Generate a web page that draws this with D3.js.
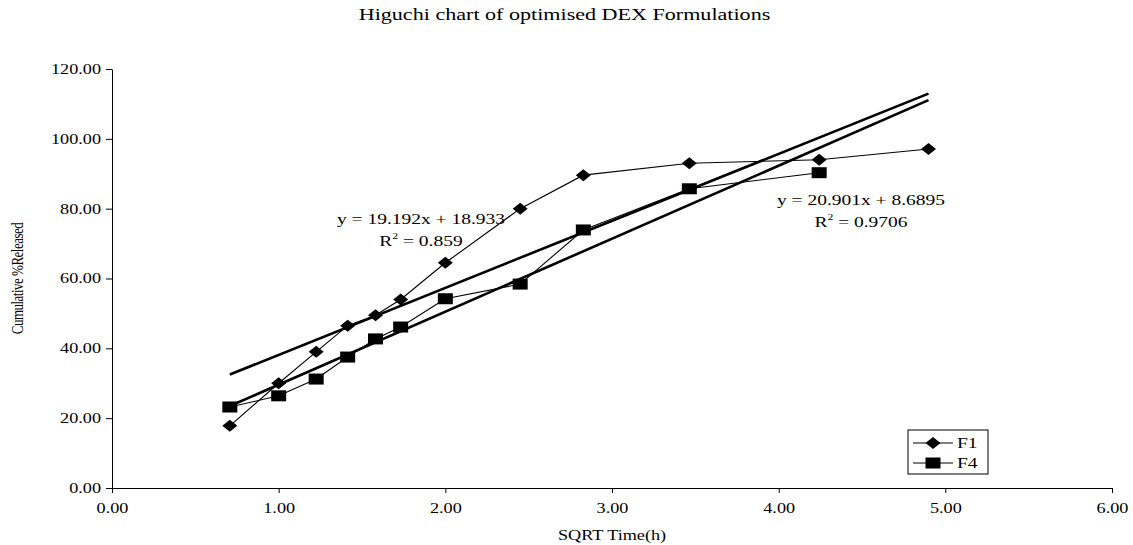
<!DOCTYPE html>
<html>
<head>
<meta charset="utf-8">
<script src="https://cdn.jsdelivr.net/npm/d3@7"></script>
<style>
  body { margin: 0; background: #fff; }
  text { font-family: "Liberation Serif", serif; fill: #000; }
</style>
</head>
<body>
<div id="chart-container"></div>
<script>
// sqrt of sampling times (h)
const sqrtTime = [0.707, 1.0, 1.225, 1.414, 1.581, 1.732, 2.0, 2.449, 2.828, 3.464, 4.243, 4.899];
const f1Values = [17.8, 30.0, 39.0, 46.5, 49.5, 54.0, 64.5, 80.0, 89.6, 93.0, 94.0, 97.1];
const f4Values = [23.2, 26.4, 31.2, 37.5, 42.7, 46.1, 54.2, 58.4, 73.9, 85.7, 90.3];
const xTicks = [0, 1, 2, 3, 4, 5, 6];
const yTicks = [0, 20, 40, 60, 80, 100, 120];
// trendline coefficients shown on the chart
const f1Fit = { slope: 19.192, intercept: 18.933, r2: "0.859" };
const f4Fit = { slope: 20.901, intercept: 8.6895, r2: "0.9706" };
const seriesNames = ["F1", "F4"];

// the picture is stretched sideways, so text is stretched the same way
const SX = 1.3;

const W = 1133, H = 545;
const margin = { top: 69, right: 21, bottom: 57, left: 112 };
const width = W - margin.left - margin.right;
const height = H - margin.top - margin.bottom;

const svg = d3.select("#chart-container")
  .append("svg")
  .attr("width", W)
  .attr("height", H);

const g = svg.append("g")
  .attr("transform", "translate(" + margin.left + "," + margin.top + ")");

const x = d3.scaleLinear().domain([0, 6]).range([0, width]);
const y = d3.scaleLinear().domain([0, 120]).range([height, 0]);

function stretchText(parent, px, py, str, size, anchor) {
  const t = parent.append("g")
    .attr("transform", "translate(" + px + "," + py + ") scale(" + SX + ",1)")
    .append("text")
    .attr("text-anchor", anchor || "middle")
    .attr("dominant-baseline", "central")
    .style("font-size", size + "px");
  return t.text(str);
}

// axes
const xAxis = g.append("g")
  .attr("transform", "translate(0," + height + ")")
  .call(d3.axisBottom(x).tickValues(xTicks).tickFormat(d3.format(".2f")).tickSizeInner(5).tickSizeOuter(5));
xAxis.selectAll("text")
  .style("font-size", "14px")
  .attr("y", 20).attr("dy", "0.35em")
  .attr("transform", "scale(" + SX + ",1)");

const yAxis = g.append("g")
  .call(d3.axisLeft(y).tickValues(yTicks).tickFormat(d3.format(".2f")).tickSizeInner(6).tickSizeOuter(0));
yAxis.selectAll("text")
  .style("font-size", "14px")
  .attr("x", -11 / SX)
  .attr("transform", "scale(" + SX + ",1)");
g.selectAll(".domain, .tick line").attr("stroke", "#000");

// titles
stretchText(svg, W / 2 - 2, 14, "Higuchi chart of optimised DEX Formulations", 17);
stretchText(svg, margin.left + width / 2, 536, "SQRT Time(h)", 14);
svg.append("g")
  .attr("transform", "translate(17," + (margin.top + height / 2) + ") scale(" + SX + ",1) rotate(-90)")
  .append("text")
  .attr("text-anchor", "middle")
  .attr("dominant-baseline", "central")
  .style("font-size", "13px")
  .style("letter-spacing", "-0.5px")
  .text("Cumulative %Released");

// trendlines over the x range of the data
const xExtent = d3.extent(sqrtTime);
[f1Fit, f4Fit].forEach(fit => {
  g.append("line")
    .attr("x1", x(xExtent[0])).attr("y1", y(fit.intercept + fit.slope * xExtent[0]))
    .attr("x2", x(xExtent[1])).attr("y2", y(fit.intercept + fit.slope * xExtent[1]))
    .attr("stroke", "#000")
    .attr("stroke-width", 2.6);
});

const line = d3.line().x(d => x(d[0])).y(d => y(d[1]));
const f1Data = f1Values.map((v, i) => [sqrtTime[i], v]);
const f4Data = f4Values.map((v, i) => [sqrtTime[i], v]);

g.append("path").datum(f1Data).attr("d", line)
  .attr("fill", "none").attr("stroke", "#000").attr("stroke-width", 1.1);
g.append("path").datum(f4Data).attr("d", line)
  .attr("fill", "none").attr("stroke", "#000").attr("stroke-width", 1.1);

const diamond = "M0,-6 L7.5,0 L0,6 L-7.5,0 Z";
g.selectAll(".f1").data(f1Data).enter().append("path")
  .attr("class", "f1")
  .attr("d", diamond)
  .attr("transform", d => "translate(" + x(d[0]) + "," + y(d[1]) + ")")
  .attr("fill", "#000");
g.selectAll(".f4").data(f4Data).enter().append("rect")
  .attr("class", "f4")
  .attr("x", d => x(d[0]) - 7.5).attr("y", d => y(d[1]) - 5.5)
  .attr("width", 15).attr("height", 11)
  .attr("fill", "#000");

// equation labels
function eqLabel(fit, cx, cy) {
  stretchText(svg, cx, cy, "y = " + fit.slope + "x + " + fit.intercept, 15);
  const t = stretchText(svg, cx, cy + 22, "", 15);
  t.append("tspan").text("R");
  t.append("tspan").attr("baseline-shift", "super").style("font-size", "9px").text("2");
  t.append("tspan").text(" = " + fit.r2);
}
eqLabel(f1Fit, 421, 219);
eqLabel(f4Fit, 861, 200);

// legend
const lg = svg.append("g").attr("transform", "translate(908,430)");
lg.append("rect").attr("width", 80).attr("height", 44)
  .attr("fill", "#fff").attr("stroke", "#000").attr("stroke-width", 1);
seriesNames.forEach((name, i) => {
  const ly = 13 + i * 20;
  lg.append("line").attr("x1", 5).attr("x2", 45).attr("y1", ly).attr("y2", ly)
    .attr("stroke", "#000").attr("stroke-width", 1.1);
  if (i === 0) {
    lg.append("path").attr("d", diamond).attr("transform", "translate(25," + ly + ")").attr("fill", "#000");
  } else {
    lg.append("rect").attr("x", 25 - 7.5).attr("y", ly - 5.5).attr("width", 15).attr("height", 11).attr("fill", "#000");
  }
  stretchText(lg, 49, ly, name, 15, "start");
});
</script>
</body>
</html>
